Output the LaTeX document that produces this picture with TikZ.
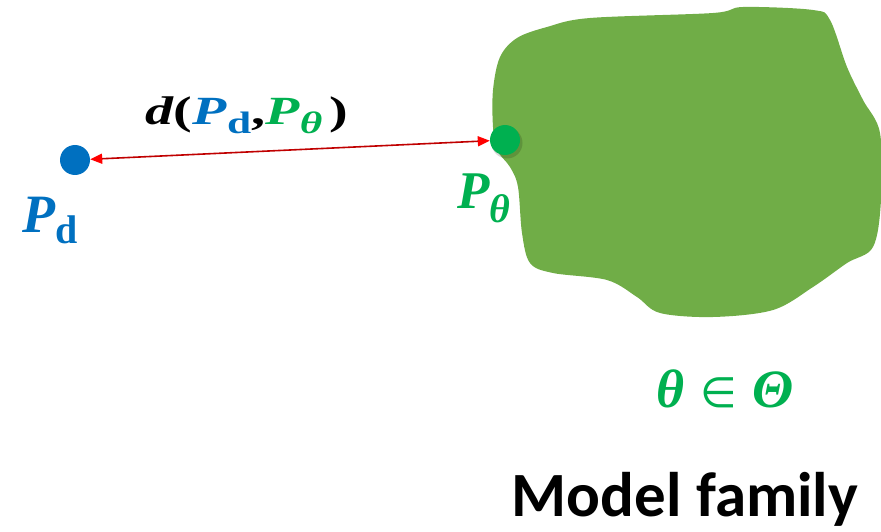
\documentclass[tikz,border=0pt]{standalone}
\usepackage{fontspec}
\setmainfont{Liberation Serif}
\newfontfamily\calib{Carlito}
\newfontfamily\dejavu{DejaVu Sans}
\usetikzlibrary{arrows.meta}
\definecolor{blobgreen}{HTML}{70AD47}
\definecolor{dotgreen}{HTML}{00B050}
\definecolor{dblue}{HTML}{0070C0}
\definecolor{darkred}{HTML}{C00000}
\newcommand{\bi}[1]{\textbf{\textit{#1}}}
\newcommand{\lowsub}[3]{\raisebox{-#2pt}{\fontsize{#1}{#1}\selectfont #3}}
\begin{document}
\begin{tikzpicture}[x=1pt,y=-1pt,
  dot/.style={circle,inner sep=0pt,minimum size=30pt},
  dist/.style={draw=darkred,line width=1.6pt,{Triangle[length=12pt,width=10pt,fill=red,color=red]}-{Triangle[length=12pt,width=10pt,fill=red,color=red]}},
  lab/.style={inner sep=0pt,anchor=base west}]
\useasboundingbox (0,0) rectangle (881,532);
% model family blob
\fill[blobgreen] plot[smooth cycle,tension=0.55] coordinates {
 (493,90) (500,57) (517,38) (547,27) (590,18) (713,13) (743,7) (813,10) (830,20)
 (847,67) (863,100) (880,133) (881,200) (873,247) (847,263) (813,287) (773,310)
 (713,317) (660,313) (637,297) (607,280) (553,273) (530,263) (522,233) (518,187)
 (510,167) (497,150) (493,127)};
% dots
\node[dot,fill=dblue] (pd) at (75,160) {};
\fill[black,opacity=0.15] (507,143) circle (15.5pt);
\node[dot,fill=dotgreen] (pt) at (505,140) {};
\draw[dist] (pd) -- (pt);
% labels
\node[lab] (dlab) at (145,125) {\scalebox{1.4}[1]{\fontsize{40}{40}\selectfont\bi{d}\textbf{(}\textcolor{dblue}{\bi{P}\lowsub{31}{9}{\textbf{d}}}\textbf{,}\textcolor{dotgreen}{\bi{P}\lowsub{31}{9}{\bi{θ}}}\hspace{5pt}\textbf{)}}};
\node[lab] (pdlab) at (22,232) {\fontsize{54}{54}\selectfont\textcolor{dblue}{\bi{P}\lowsub{40}{11}{\textbf{d}}}};
\node[lab] (ptlab) at (457,208) {\fontsize{53}{53}\selectfont\textcolor{dotgreen}{\bi{P}\lowsub{40}{14}{\bi{θ}}}};
\node[inner sep=0pt,anchor=base] (theta) at (725,407) {\fontsize{54}{54}\selectfont\color{dotgreen}\bi{θ}\hspace{16pt}{\fontsize{42}{42}\selectfont\dejavu ∈}\hspace{16pt}\bi{Θ}};
\node[inner sep=0pt,anchor=base] (mf) at (685,516) {\fontsize{63}{63}\selectfont\calib\bfseries Model family};
\end{tikzpicture}
\end{document}
